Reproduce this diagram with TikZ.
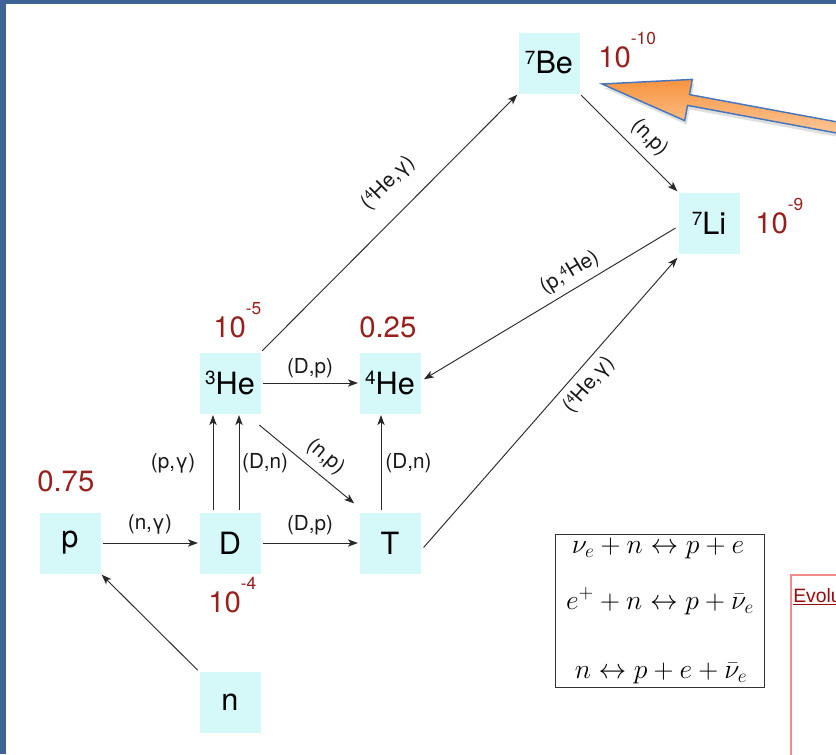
\documentclass[tikz,border=0pt]{standalone}
\usepackage[no-math]{fontspec}
\setmainfont{TeX Gyre Heros}
\newfontfamily\arialf{Liberation Sans}
\usepackage{graphicx}
\usetikzlibrary{arrows.meta,calc,shadows}
\definecolor{boxc}{RGB}{213,248,248}
\definecolor{numred}{RGB}{150,32,28}
\definecolor{frameblue}{RGB}{62,100,150}
\definecolor{lineg}{RGB}{40,40,40}
\definecolor{orangeA}{RGB}{247,148,62}
\definecolor{orangeB}{RGB}{253,208,168}
\definecolor{arrowblue}{RGB}{72,118,188}
\definecolor{pinkline}{RGB}{242,140,140}
\definecolor{evored}{RGB}{155,10,10}
\newcommand\isot[2]{\raisebox{0.3em}{\scalebox{0.62}{#1}}#2}
\newcommand\tenp[1]{10\raisebox{0.78em}{\fontsize{13}{13}\selectfont #1}}
\begin{document}
\begin{tikzpicture}[x=0.75pt,y=-0.75pt,
 nuc/.style={fill=boxc, minimum size=45.75pt, inner sep=0pt, font=\fontsize{23}{25}\selectfont, text=black},
 abund/.style={text=numred, inner sep=0pt, anchor=base west, font=\fontsize{22}{24}\selectfont},
 conn/.style={draw=lineg, line width=0.7pt, -{Stealth[length=7.5pt,width=5.5pt,inset=2pt]}, shorten >=1pt, shorten <=1.5pt},
 lbl/.style={font=\fontsize{15.5}{17}\selectfont, text=black!90, inner sep=0pt},
 eqn/.style={anchor=base, inner sep=0pt, font=\fontsize{21}{23}\selectfont}
]
\useasboundingbox (0,0) rectangle (836,754);
\clip (0,0) rectangle (836,754);
\fill[white] (0,0) rectangle (836,754);
\fill[frameblue] (0,0) rectangle (6,754);
\fill[frameblue] (0,0) rectangle (836,3.5);

% nuclei
\node[nuc] (p) at (70,543) {p};
\node[nuc] (D) at (230,543) {D};
\node[nuc] (T) at (390,543) {T};
\node[nuc] (n) at (230,702.5) {n};
\node[nuc] (He3) at (230,383) {\isot{3}{He}};
\node[nuc] (He4) at (390,383) {\isot{4}{He}};
\node[nuc] (Be) at (549,63) {\isot{7}{Be}};
\node[nuc] (Li) at (709,223) {\isot{7}{Li}};

% abundances
\node[abund] (aBe) at (598,67) {\tenp{-10}};
\node[abund] (aLi) at (755,233) {\tenp{-9}};
\node[abund] (aHe3) at (213,337) {\tenp{-5}};
\node[abund] (aHe4) at (359,337) {0.25};
\node[abund] (ap) at (37,491) {0.75};
\node[abund] (aD) at (208,612) {\tenp{-4}};

% reactions
\draw[conn] (p) -- node[lbl, above, inner sep=6pt] (l1) {(n,γ)} (D);
\draw[conn] (D) -- node[lbl, above, inner sep=6pt] (l2) {(D,p)} (T);
\draw[conn] (He3) -- node[lbl, above, inner sep=3.5pt] (l3) {(D,p)} (He4);
\draw[conn] ($(D.north)+(-17,0)$) -- node[lbl, left, inner sep=13pt] (l4) {(p,γ)} ($(He3.south)+(-17,0)$);
\draw[conn] ($(D.north)+(9,0)$) -- node[lbl, right, inner sep=2pt] (l5) {(D,n)} ($(He3.south)+(9,0)$);
\draw[conn] ($(T.north)+(-9,0)$) -- node[lbl, right, inner sep=3pt] (l6) {(D,n)} ($(He4.south)+(-9,0)$);
\draw[conn] ($(He3.south east)+(-3,10)$) -- node[lbl, sloped, above, pos=0.58, inner sep=5.5pt] (l7) {(n,p)} ($(T.north west)+(-4,-8)$);
\draw[conn] (n.north west) -- (p.south east);
\draw[conn] (He3.north east) -- node[lbl, sloped, above, pos=0.575, inner sep=14pt] (l8) {(\isot{4}{He},γ)} (Be.south west);
\draw[conn] (Be.south east) -- node[lbl, sloped, above, pos=0.576, inner sep=6pt] (l9) {(n,p)} (Li.north west);
\draw[conn] ($(Li.west)+(-1,4)$) -- node[lbl, sloped, above, pos=0.39, inner sep=4.5pt] (l10) {(p,\isot{4}{He})} ($(He4.east)+(2,-3)$);
\draw[conn] ($(T.east)+(1.5,6)$) -- node[lbl, sloped, below, pos=0.6, inner sep=5.3pt] (l11) {(\isot{4}{He},γ)} ($(Li.south west)+(0,3)$);

% weak reactions box
\node[draw=black!80, line width=0.75pt, minimum width=156.75pt, minimum height=114.75pt, inner sep=0pt] (eqbox) at (659.5,610.5) {};
\node[eqn] (eq1) at (658,553) {$\nu_e+n\leftrightarrow p+e$};
\node[eqn] (eq2) at (660,609) {$e^+ +n\leftrightarrow p+\bar{\nu}_e$};
\node[eqn] (eq3) at (661,678) {$n\leftrightarrow p+e+\bar{\nu}_e$};

% clipped side panel
\draw[pinkline, line width=1.2pt] (791,575) rectangle (900,800);
\node[anchor=base west, inner sep=0pt, text=evored, font=\arialf\fontsize{14.5}{16}\selectfont] (evo) at (793,602) {\underline{Evolu}};

% orange call-out arrow
\draw[draw=arrowblue, line width=1.1pt, top color=orangeA, bottom color=orangeB,
  drop shadow={shadow xshift=1.5pt, shadow yshift=-3pt, opacity=0.25}]
  (602,84) -- (692.3,79.4) -- (689.5,94.6) -- (897.9,133.2) -- (895.9,144) -- (687.5,105.4) -- (684.7,120.6) -- cycle;
\end{tikzpicture}
\end{document}
